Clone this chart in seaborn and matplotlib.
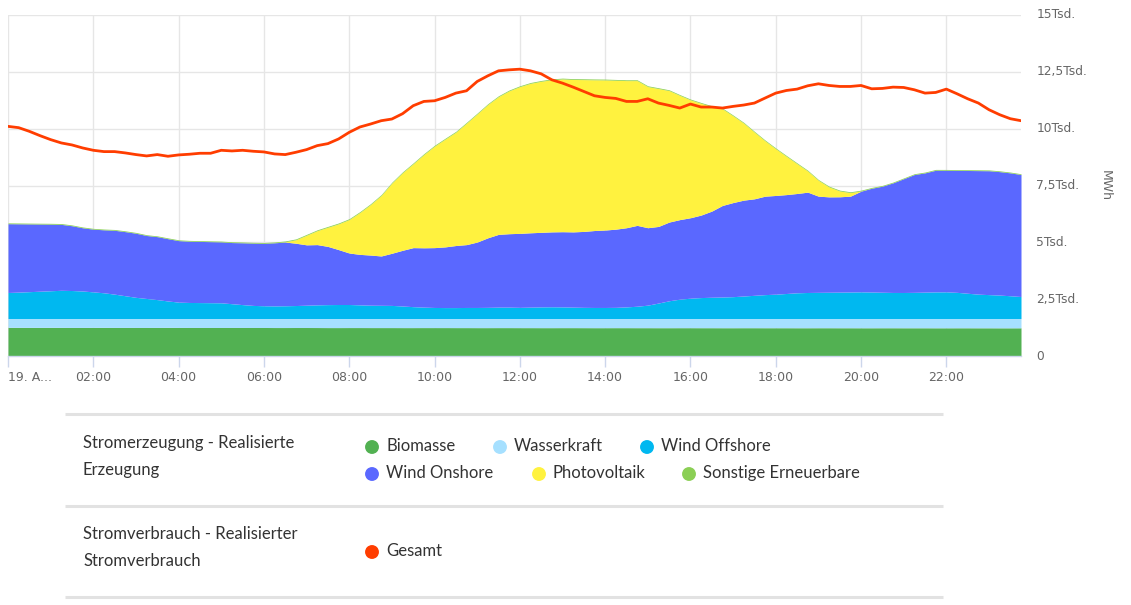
import numpy as np
import pandas as pd
import matplotlib.pyplot as plt
import seaborn as sns
from matplotlib.ticker import FuncFormatter

# Viertelstundenwerte 19. August, 00:00 bis 23:45 (MWh)
zeit = np.arange(96) * 0.25

biomasse = [1260, 1260, 1258, 1258, 1260, 1258, 1256, 1256, 1258, 1258, 1256, 1256,
            1255, 1255, 1256, 1258, 1256, 1255, 1255, 1254, 1254, 1255, 1255, 1254,
            1254, 1252, 1252, 1253, 1253, 1252, 1250, 1250, 1251, 1251, 1250, 1250,
            1250, 1249, 1249, 1250, 1250, 1250, 1249, 1249, 1248, 1248, 1249, 1249,
            1248, 1248, 1247, 1247, 1248, 1248, 1247, 1246, 1246, 1247, 1247, 1246,
            1246, 1245, 1245, 1246, 1246, 1245, 1245, 1244, 1244, 1245, 1245, 1244,
            1244, 1244, 1243, 1243, 1244, 1244, 1243, 1243, 1242, 1242, 1243, 1243,
            1242, 1242, 1242, 1241, 1241, 1242, 1242, 1241, 1241, 1240, 1240, 1241]

wasserkraft = [390, 390, 392, 392, 390, 392, 394, 394, 392, 392, 394, 394,
               395, 395, 394, 392, 394, 395, 395, 396, 396, 395, 395, 396,
               396, 398, 398, 397, 397, 398, 400, 400, 399, 399, 400, 400,
               400, 401, 401, 400, 400, 400, 401, 401, 402, 402, 401, 401,
               402, 402, 403, 403, 402, 402, 403, 404, 404, 403, 403, 404,
               404, 405, 405, 404, 404, 405, 405, 406, 406, 405, 405, 406,
               406, 406, 407, 407, 406, 406, 407, 407, 408, 408, 407, 407,
               408, 408, 408, 409, 409, 408, 408, 409, 409, 410, 410, 409]

wind_offshore = [1144, 1160, 1180, 1200, 1220, 1240, 1230, 1210, 1170, 1130, 1070, 1000,
                 930, 880, 830, 770, 720, 705, 700, 695, 690, 650, 610, 575,
                 560, 555, 560, 570, 585, 600, 610, 615, 615, 600, 585, 580,
                 575, 550, 520, 500, 485, 480, 480, 485, 485, 490, 500, 500,
                 490, 500, 510, 515, 510, 500, 490, 485, 485, 490, 510, 540,
                 587, 680, 780, 850, 894, 920, 935, 945, 960, 990, 1020, 1050,
                 1070, 1100, 1130, 1144, 1150, 1155, 1160, 1165, 1172, 1165, 1155, 1145,
                 1144, 1150, 1160, 1170, 1172, 1150, 1110, 1070, 1050, 1030, 1000, 967]

wind_onshore = [3026, 3005, 2980, 2955, 2930, 2900, 2850, 2780, 2760, 2770, 2810, 2820,
                2820, 2770, 2770, 2740, 2705, 2695, 2690, 2685, 2680, 2690, 2720, 2740,
                2746, 2775, 2803, 2740, 2655, 2650, 2560, 2415, 2265, 2220, 2205, 2170,
                2295, 2450, 2597, 2610, 2632, 2670, 2730, 2765, 2878, 3060, 3201, 3230,
                3255, 3270, 3280, 3295, 3308, 3310, 3340, 3385, 3406, 3440, 3483, 3556,
                3406, 3370, 3462, 3500, 3538, 3630, 3790, 4028, 4140, 4217, 4245, 4331,
                4342, 4350, 4369, 4413, 4231, 4195, 4194, 4216, 4430, 4565, 4666, 4822,
                5006, 5183, 5246, 5352, 5350, 5365, 5400, 5435, 5450, 5430, 5406, 5366]

photovoltaik = [0, 0, 0, 0, 0, 0, 0, 0, 0, 0, 0, 0,
                0, 0, 0, 0, 0, 0, 0, 0, 0, 0, 0, 0,
                0, 0, 12, 155, 425, 615, 845, 1135, 1475, 1845, 2225, 2665,
                3091, 3415, 3692, 4105, 4467, 4745, 4988, 5345, 5639, 5865, 6061, 6285,
                6456, 6575, 6645, 6695, 6720, 6705, 6678, 6630, 6604, 6550, 6472, 6369,
                6208, 6065, 5783, 5465, 5186, 4915, 4600, 4249, 3815, 3386, 2933, 2434,
                2055, 1685, 1310, 930, 697, 436, 256, 157, 8, 0, 0, 0,
                0, 0, 0, 0, 0, 0, 0, 0, 0, 0, 0, 0]

sonstige = [36, 36, 35, 35, 36, 36, 35, 35, 34, 34, 35, 35,
            35, 34, 34, 35, 35, 35, 34, 34, 35, 35, 34, 34,
            35, 35, 36, 36, 36, 36, 37, 37, 37, 37, 36, 36,
            36, 36, 37, 37, 37, 36, 36, 36, 35, 35, 36, 36,
            36, 36, 35, 35, 35, 35, 36, 36, 36, 35, 35, 35,
            35, 35, 34, 34, 34, 35, 35, 35, 34, 34, 34, 35,
            35, 35, 35, 34, 34, 34, 35, 35, 35, 35, 34, 34,
            34, 35, 35, 35, 34, 34, 34, 35, 35, 35, 34, 34]

gesamt = [10101, 10044, 9883, 9693, 9518, 9372, 9284, 9152, 9049, 8991, 8991, 8933,
          8860, 8801, 8860, 8786, 8845, 8875, 8918, 8918, 9049, 9020, 9049, 9006,
          8977, 8889, 8860, 8962, 9079, 9254, 9342, 9547, 9839, 10073, 10204, 10350,
          10424, 10658, 11010, 11198, 11228, 11374, 11564, 11667, 12076, 12325, 12544, 12588,
          12617, 12544, 12412, 12149, 12003, 11827, 11637, 11447, 11374, 11330, 11198, 11198,
          11315, 11125, 11023, 10907, 11083, 10951, 10951, 10907, 10980, 11040, 11127, 11347,
          11564, 11680, 11740, 11886, 11974, 11900, 11857, 11857, 11900, 11754, 11770, 11827,
          11812, 11710, 11564, 11593, 11740, 11535, 11315, 11127, 10833, 10614, 10438, 10350]

erzeugung_namen = ["Biomasse", "Wasserkraft", "Wind Offshore",
                   "Wind Onshore", "Photovoltaik", "Sonstige Erneuerbare"]
erzeugung_farben = ["#52b152", "#a6e0ff", "#00b8f0", "#5a68ff", "#fff23f", "#8bcf55"]
gesamt_farbe = "#ff3d00"

x_ticks = [0, 2, 4, 6, 8, 10, 12, 14, 16, 18, 20, 22]
x_labels = ["19. A...", "02:00", "04:00", "06:00", "08:00", "10:00",
            "12:00", "14:00", "16:00", "18:00", "20:00", "22:00"]
y_ticks = [0, 2500, 5000, 7500, 10000, 12500, 15000]

df = pd.DataFrame({"zeit": zeit, "gesamt": gesamt})

sns.set_theme(style="white")
plt.rcParams["font.family"] = ["DejaVu Sans"]

fig = plt.figure(figsize=(11.31, 6.05), dpi=100)
W, H = 1131, 605
ax = fig.add_axes([8 / W, (H - 356) / H, 1013 / W, 341 / H])

ax.stackplot(zeit, biomasse, wasserkraft, wind_offshore, wind_onshore,
             photovoltaik, sonstige, colors=erzeugung_farben, linewidth=0, zorder=2)
sns.lineplot(data=df, x="zeit", y="gesamt", ax=ax, color=gesamt_farbe,
             linewidth=2.0, zorder=3)

ax.set_xlim(0, 23.75)
ax.set_ylim(0, 15000)
ax.set_xticks(x_ticks)
ax.set_xticklabels(x_labels)
ax.set_yticks(y_ticks)


def tsd(v, pos):
    if v == 0:
        return "0"
    s = f"{v / 1000:g}".replace(".", ",")
    return s + "Tsd."


ax.yaxis.set_major_formatter(FuncFormatter(tsd))
ax.yaxis.tick_right()
ax.yaxis.set_label_position("right")
ax.set_ylabel("MWh", rotation=270, labelpad=18, color="#666666", fontsize=9)
ax.set_xlabel("")

ax.grid(True, color="#e6e6e6", linewidth=1, zorder=0)
ax.set_axisbelow(True)
for side in ["top", "left", "right"]:
    ax.spines[side].set_visible(False)
ax.spines["bottom"].set_color("#ccd6eb")
ax.spines["bottom"].set_linewidth(1)
ax.tick_params(axis="x", colors="#666666", labelsize=9, length=8, width=1,
               direction="out", bottom=True, pad=3)
ax.tick_params(axis="x", which="major", color="#ccd6eb")
ax.tick_params(axis="y", colors="#666666", labelsize=8.8, length=0, pad=11)
for lbl in ax.get_yticklabels():
    lbl.set_verticalalignment("center")
ax.get_xticklabels()[0].set_horizontalalignment("left")

# Legende unten (in Pixelkoordinaten)
lg = fig.add_axes([0, 0, 1, 1])
lg.set_xlim(0, W)
lg.set_ylim(H, 0)
lg.axis("off")
lg.patch.set_alpha(0)

for yy in [414, 506, 597]:
    lg.plot([65, 943], [yy, yy], color="#e2e2e2", linewidth=2.2, solid_capstyle="butt")

txt = dict(family=["Lato", "DejaVu Sans"], fontsize=12, color="#333333", va="center")
lg.text(83, 443, "Stromerzeugung - Realisierte", **txt)
lg.text(83, 470, "Erzeugung", **txt)
lg.text(83, 534, "Stromverbrauch - Realisierter", **txt)
lg.text(83, 561, "Stromverbrauch", **txt)

legende_pos = [(372, 447), (500, 447), (647, 447), (372, 474), (539, 474), (689, 474)]
for (px, py), name, farbe in zip(legende_pos, erzeugung_namen, erzeugung_farben):
    lg.scatter([px], [py], s=100, color=farbe, edgecolors="none")
    lg.text(px + 14, py - 1, name, **txt)
lg.scatter([372], [552], s=100, color=gesamt_farbe, edgecolors="none")
lg.text(386, 551, "Gesamt", **txt)

fig.savefig("out.png", dpi=100)
